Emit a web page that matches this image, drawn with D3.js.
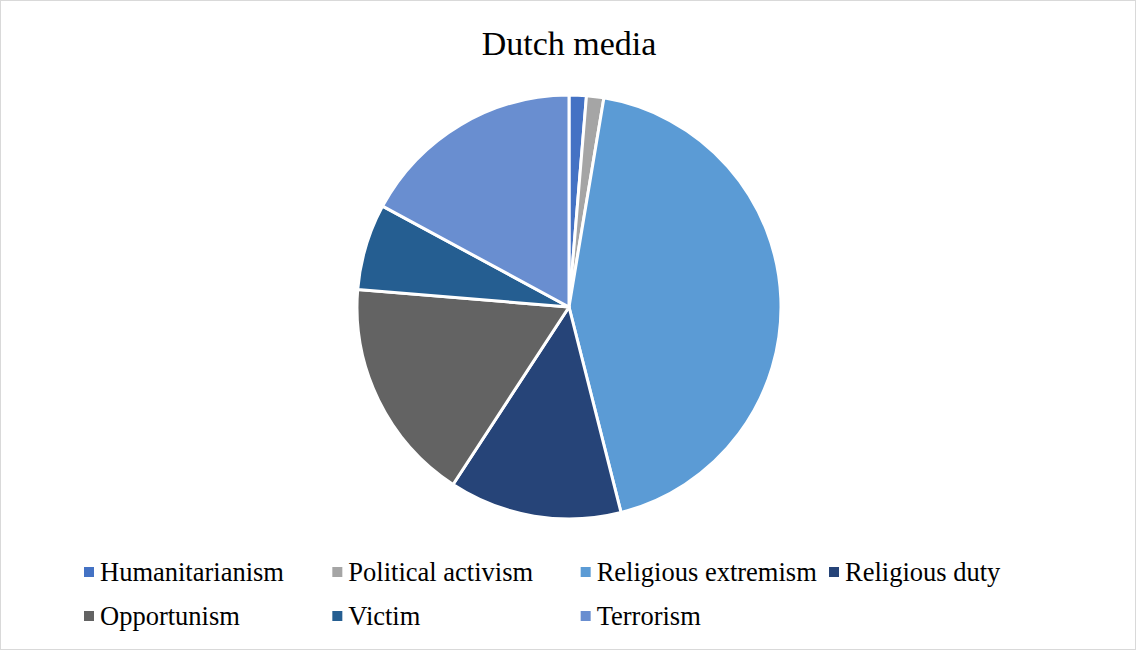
<!DOCTYPE html>
<html>
<head>
<meta charset="utf-8">
<script src="https://cdn.jsdelivr.net/npm/d3@7"></script>
<style>
  html, body { margin: 0; padding: 0; background: #fff; }
  svg { display: block; }
  .serif { font-family: "Liberation Serif", "Times New Roman", Times, serif; }
</style>
</head>
<body>
<svg id="chart" width="1136" height="650"></svg>
<script>
// Motives as framed in Dutch media (article counts)
const categories = ["Humanitarianism", "Political activism", "Religious extremism", "Religious duty", "Opportunism", "Victim", "Terrorism"];
const counts = [1, 1, 33, 10, 13, 5, 13];
const colors = ["#4472C4", "#A5A5A5", "#5B9BD5", "#264478", "#636363", "#255E91", "#698ED0"];
const title = "Dutch media";

const W = 1136, H = 650;
const svg = d3.select("#chart");

// chart frame
svg.append("rect")
  .attr("x", 0.5).attr("y", 0.5)
  .attr("width", W - 1).attr("height", H - 1)
  .attr("fill", "#fff").attr("stroke", "#D9D9D9").attr("stroke-width", 1);

svg.append("text")
  .attr("class", "serif")
  .attr("x", 569).attr("y", 55)
  .attr("text-anchor", "middle")
  .style("font-size", "34px")
  .attr("fill", "#000")
  .text(title);

const data = categories.map((c, i) => ({ name: c, value: counts[i], color: colors[i] }));
const pie = d3.pie().sort(null).value(d => d.value);
const arc = d3.arc().innerRadius(0).outerRadius(212);

const g = svg.append("g").attr("transform", "translate(569,307)");
g.selectAll("path")
  .data(pie(data))
  .join("path")
  .attr("d", arc)
  .attr("fill", d => d.data.color)
  .attr("stroke", "#fff")
  .attr("stroke-width", 3)
  .attr("stroke-linejoin", "round");

// legend: four columns, two rows
const colX = d3.scalePoint().domain([0, 1, 2, 3]).range([84, 829]);
const rowY = d3.scalePoint().domain([0, 1]).range([572, 616]);
const legend = svg.append("g");
const items = legend.selectAll("g")
  .data(data)
  .join("g")
  .attr("transform", (d, i) => `translate(${colX(i % 4)},${rowY(Math.floor(i / 4))})`);
items.append("rect")
  .attr("x", 0).attr("y", -5)
  .attr("width", 10).attr("height", 10)
  .attr("fill", d => d.color);
items.append("text")
  .attr("class", "serif")
  .attr("x", 16).attr("y", 9)
  .style("font-size", "26.5px")
  .attr("fill", "#000")
  .text(d => d.name);
</script>
</body>
</html>
